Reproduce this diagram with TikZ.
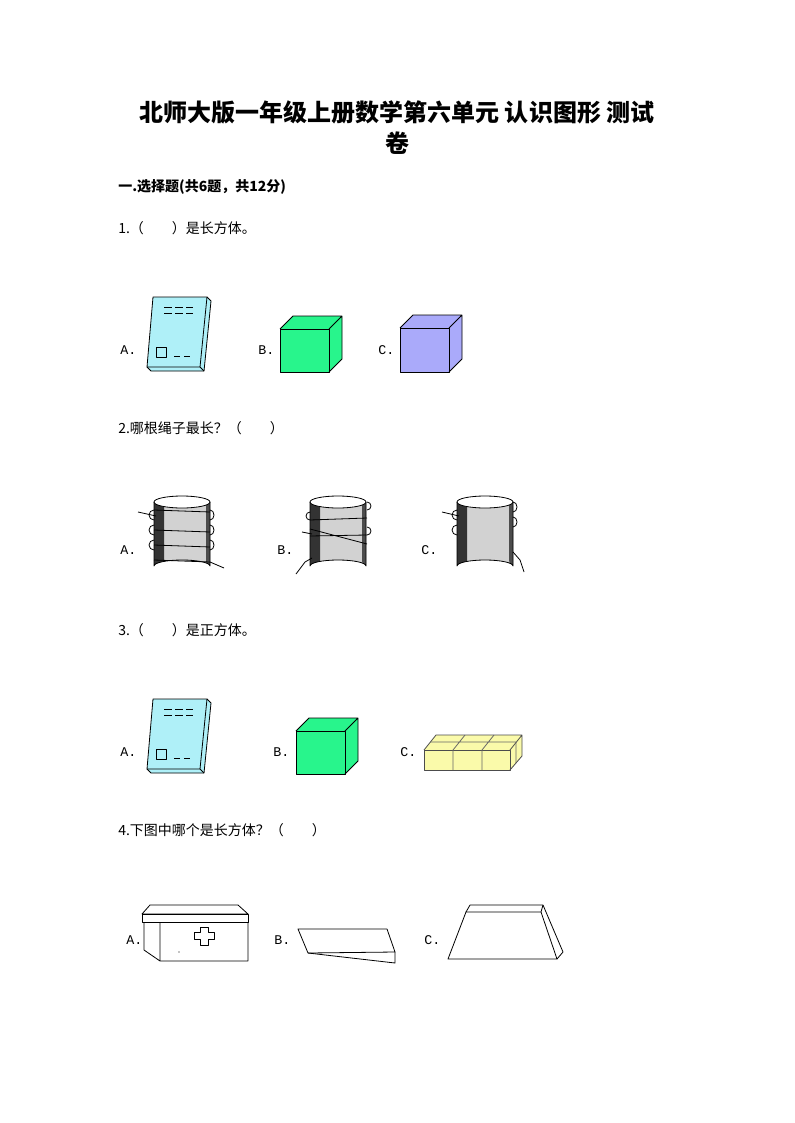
\documentclass[tikz,border=0pt]{standalone}
\usepackage{fontspec}
\newfontfamily\cjk{Noto Sans CJK SC}
\newfontfamily\mono{Liberation Mono}
\begin{document}
\begin{tikzpicture}[x=0.75pt,y=-0.75pt,
  lbl/.style={anchor=west,font=\mono\fontsize{10}{12}\selectfont,inner sep=0},
  qtxt/.style={anchor=west,font=\cjk\fontsize{10.5}{12}\selectfont,inner sep=0},
  edge/.style={draw=black,line width=0.6pt,line join=round}]
\useasboundingbox[fill=white] (0,0) rectangle (794,1123);
\definecolor{cyanb}{RGB}{175,240,248}
\definecolor{greenb}{RGB}{40,245,140}
\definecolor{purpb}{RGB}{170,170,250}
\definecolor{yelb}{RGB}{250,250,170}
\node[font=\cjk\bfseries\fontsize{18}{22}\selectfont] (t1) at (397,112) {北师大版一年级上册数学第六单元 认识图形 测试};
\node[font=\cjk\bfseries\fontsize{18}{22}\selectfont] (t2) at (397,143) {卷};
\node[qtxt,font=\cjk\bfseries\fontsize{10.5}{12}\selectfont] (sec) at (118,187) {一.选择题(共6题，共12分)};
\node[qtxt] (q1) at (118,228) {1.（\quad\quad）是长方体。};
\node[qtxt] (q2) at (118,428) {2.哪根绳子最长？（\quad\quad）};
\node[qtxt] (q3) at (118,630) {3.（\quad\quad）是正方体。};
\node[qtxt] (q4) at (118,830) {4.下图中哪个是长方体？（\quad\quad）};
\foreach \dy in {0,402}{
\begin{scope}[yshift=-\dy*0.75pt]
\fill[cyanb] (153,297)--(207,297)--(211,301)--(204,371)--(151,371)--(147,367)--cycle;
\draw[edge] (153,297)--(207,297)--(200,367)--(147,367)--cycle;
\draw[edge] (207,297)--(211,301)--(204,371)--(151,371)--(147,367);
\draw[edge] (200,367)--(204,371);
\draw[edge] (164,307)--(172,307) (175,307)--(183,307) (186,307)--(193,307) (164,313)--(172,313) (175,313)--(183,313) (186,313)--(193,313) (174,356)--(180,356) (184,356)--(190,356);
\draw[edge] (156,347) rectangle (166,357);
\end{scope}}
\node[lbl] (a1) at (120,350) {A.};
\node[lbl] (b1) at (258,350) {B.};
\node[lbl] (c1) at (378,350) {C.};
\newcommand\cubeat[6]{%
 \fill[#6] (#1,#2)--(#1+#5,#2-#5)--(#3+#5,#2-#5)--(#3+#5,#4-#5)--(#3,#4)--(#1,#4)--cycle;
 \draw[edge] (#1,#2) rectangle (#3,#4);
 \draw[edge] (#1,#2)--(#1+#5,#2-#5)--(#3+#5,#2-#5)--(#3+#5,#4-#5)--(#3,#4) (#3,#2)--(#3+#5,#2-#5);}
\cubeat{280}{329}{329}{372}{13}{greenb}
\cubeat{400}{328}{449}{372}{13}{purpb}
\newcommand\cyl[1]{%
 \begin{scope}[xshift=#1*0.75pt]
 \fill[gray!35] (0,502)--(0,566) arc[start angle=180,end angle=360,x radius=28,y radius=6]--(56,502)--cycle;
 \fill[black!80] (0,502)--(0,566) arc[start angle=180,end angle=230,x radius=28,y radius=6]--(10,504)--cycle;
 \fill[black!70] (56,502)--(56,566) arc[start angle=360,end angle=330,x radius=28,y radius=6]--(52,500)--cycle;
 \fill[white] (28,502) ellipse[x radius=28,y radius=6];
 \draw[edge] (28,502) ellipse[x radius=28,y radius=6];
 \draw[edge] (0,502)--(0,566) arc[start angle=180,end angle=360,x radius=28,y radius=6]--(56,502);
 \end{scope}}
\cyl{154}\cyl{310}\cyl{457}
\foreach \yy in {520,535,550}{
 \draw[edge] (154,\yy) arc[start angle=90,end angle=270,x radius=5,y radius=5];
 \draw[edge] (210,\yy) arc[start angle=90,end angle=-90,x radius=4,y radius=5];
 \draw[edge] (154,\yy+10)--(210,\yy+12);}
\draw[edge] (154,510)--(210,512);
\draw[edge] (138,512)--(156,516) (210,562)--(224,568);
\draw[edge] (310,520) arc[start angle=90,end angle=270,x radius=4,y radius=4];
\draw[edge] (367,510) arc[start angle=90,end angle=-90,x radius=4,y radius=4];
\draw[edge] (367,535) arc[start angle=90,end angle=-90,x radius=4,y radius=4];
\draw[edge] (310,529)--(367,544) (310,520)--(367,518) (310,536)--(367,535);
\draw[edge] (302,532)--(312,534) (296,574)--(305,562)--(312,558);
\node[lbl] (a2) at (120,550) {A.};
\node[lbl] (b2) at (277,550) {B.};
\node[lbl] (c2) at (421,550) {C.};
\foreach \yy in {520,535}{
 \draw[edge] (457,\yy) arc[start angle=90,end angle=270,x radius=5,y radius=5];
 \draw[edge] (513,\yy-8) arc[start angle=90,end angle=-90,x radius=4,y radius=5];}
\draw[edge] (442,512)--(459,516) (513,552)--(520,560)--(524,572);
\node[lbl] (a3) at (120,752) {A.};
\node[lbl] (b3) at (273,752) {B.};
\node[lbl] (c3) at (400,752) {C.};
\cubeat{296}{731}{345}{774}{13}{greenb}
\fill[yelb] (424,750)--(436,735)--(522,735)--(522,756)--(510,770)--(424,770)--cycle;
\draw[edge,draw=black!70] (424,750) rectangle (510,770);
\draw[edge,draw=black!70] (424,750)--(436,735)--(522,735)--(522,756)--(510,770) (510,750)--(522,735);
\draw[edge,draw=black!60] (453,750)--(453,770) (482,750)--(482,770) (453,750)--(465,735) (482,750)--(494,735) (430,742)--(516,742) (516,742)--(516,763);
\node[lbl] (a4) at (126,940) {A.};
\node[lbl] (b4) at (274,940) {B.};
\node[lbl] (c4) at (424,940) {C.};
\draw[edge] (142,914)--(150,905)--(238,905)--(248,914)--cycle;
\draw[edge] (142,914) rectangle (248,922);
\draw[edge] (160,922)--(160,961)--(248,961)--(248,922) (144,922)--(144,950)--(160,961);
\draw[edge] (200,927)--(208,927)--(208,932)--(214,932)--(214,939)--(208,939)--(208,945)--(200,945)--(200,939)--(194,939)--(194,932)--(200,932)--cycle;
\fill (179,952) circle (0.7);
\draw[edge] (298,929)--(387,929)--(395,952)--(308,953)--cycle;
\draw[edge] (308,953)--(395,963)--(395,952);
\draw[edge] (448,959)--(466,912)--(541,912)--(557,959)--cycle;
\draw[edge] (466,912)--(470,905)--(543,905)--(563,952)--(557,959) (541,912)--(543,905);
\end{tikzpicture}
\end{document}
